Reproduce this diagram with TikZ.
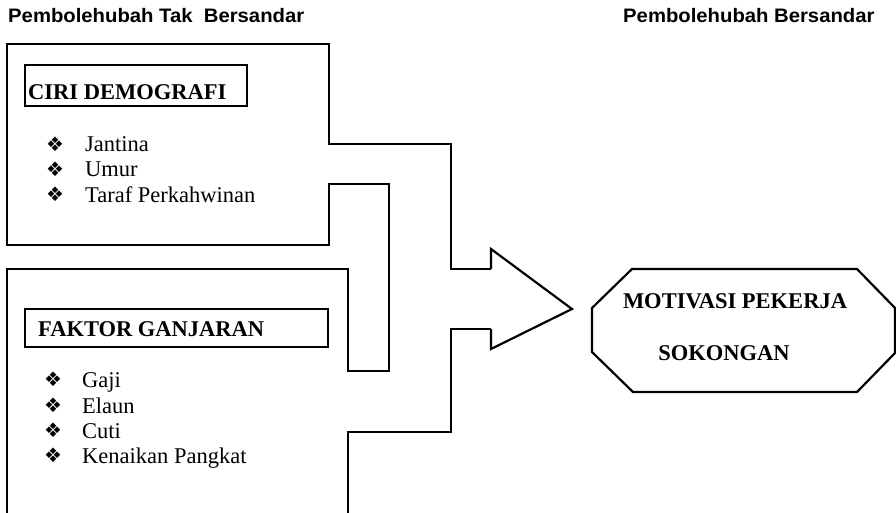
\documentclass[tikz,border=0pt]{standalone}
\usepackage{fontspec}
\setmainfont{Liberation Serif}
\newfontfamily\hdrfont[FakeStretch=1.04]{Liberation Sans}
\newfontfamily\symfont{DejaVu Sans}
\begin{document}
\begin{tikzpicture}[x=1pt,y=-1pt,
  outline/.style={line width=1.3pt, line join=miter},
  thin outline/.style={line width=1.1pt, line join=miter},
  heavy/.style={line width=2.2pt, line join=miter},
  hdr/.style={inner sep=0, anchor=base west, font=\hdrfont\bfseries\fontsize{19.5}{22}\selectfont},
  lbl/.style={inner sep=0, anchor=base west, font=\bfseries\fontsize{22.5}{25}\selectfont},
  itm/.style={inner sep=0, anchor=base west, font=\fontsize{22.5}{25}\selectfont},
  bul/.style={inner sep=0, font=\symfont\fontsize{20}{22}\selectfont},
  ctr/.style={inner sep=0, anchor=base, font=\bfseries\fontsize{22.5}{25}\selectfont},
]
\useasboundingbox (0,0) rectangle (896,513);

% headers
\node[hdr] (h1) at (8,23) {Pembolehubah Tak\ \ Bersandar};
\node[hdr] (h2) at (623,23) {Pembolehubah Bersandar};

% main outline (two boxes merging into the block arrow)
\draw[outline] (7,513) -- (7,269) -- (348,269) -- (348,371) -- (389,371) -- (389,184)
  -- (329,184) -- (329,245) -- (7,245) -- (7,44) -- (329,44) -- (329,144)
  -- (451,144) -- (451,269) -- (491,269);
\draw[outline] (348,513) -- (348,432) -- (451,432) -- (451,329) -- (491,329);
\draw[heavy] (491,269) -- (491,249) -- (572,309) -- (491,349) -- (491,329);

% label boxes
\draw[thin outline] (25,65) rectangle (247,106);
\draw[thin outline] (25,309) rectangle (328,347);
\node[lbl] (l1) at (28,100) {CIRI DEMOGRAFI};
\node[lbl] (l2) at (38,336) {FAKTOR GANJARAN};

% items of box 1
\node[bul] (b1) at (55,144) {❖};
\node[bul] (b2) at (55,169) {❖};
\node[bul] (b3) at (55,194) {❖};
\node[itm] (t1) at (85,152) {Jantina};
\node[itm] (t2) at (85,177) {Umur};
\node[itm] (t3) at (85,202) {Taraf Perkahwinan};

% items of box 2
\node[bul] (b4) at (53,379) {❖};
\node[bul] (b5) at (53,405) {❖};
\node[bul] (b6) at (53,430) {❖};
\node[bul] (b7) at (53,455) {❖};
\node[itm] (t4) at (82,387) {Gaji};
\node[itm] (t5) at (82,413) {Elaun};
\node[itm] (t6) at (82,438) {Cuti};
\node[itm] (t7) at (82,463) {Kenaikan Pangkat};

% octagon
\draw[heavy] (632,269) -- (857,269) -- (895,308) -- (895,353) -- (857,392)
  -- (633,392) -- (592,352) -- (592,308) -- cycle;
\node[ctr] (m1) at (735,308) {MOTIVASI PEKERJA};
\node[ctr] (m2) at (724,360) {SOKONGAN};
\end{tikzpicture}
\end{document}
